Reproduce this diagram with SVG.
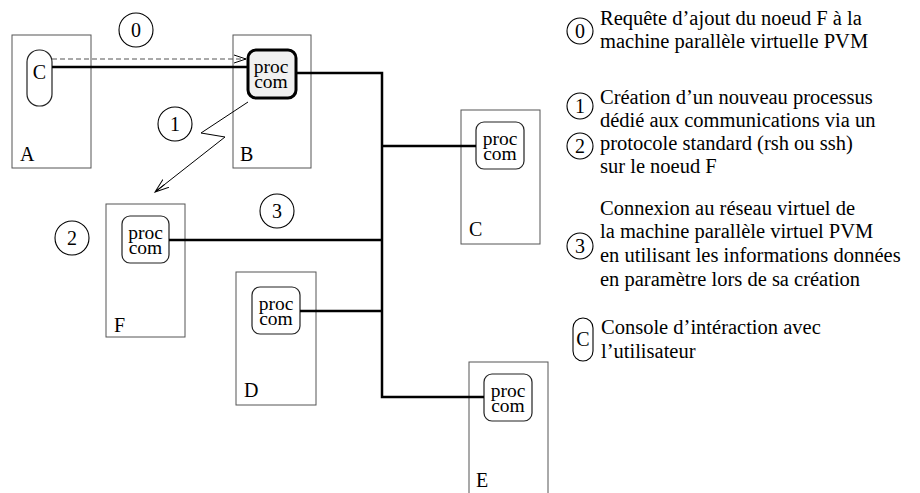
<svg xmlns="http://www.w3.org/2000/svg" width="920" height="493" viewBox="0 0 920 493">
<defs>
<style>
text{font-family:"Liberation Serif","Times New Roman",serif;fill:#000}
.lbl{font-size:20px}
.pc{font-size:19.5px;text-anchor:middle}
.num{font-size:20px;text-anchor:middle}
.lg{font-size:20.5px}
.box{fill:#fff;stroke:#555;stroke-width:1}
.proc{fill:#fff;stroke:#222;stroke-width:1.2}
.procb{fill:#f0f0f0;stroke:#000;stroke-width:3}
.circ{fill:none;stroke:#000;stroke-width:1.1}
.net{fill:none;stroke:#000;stroke-width:2.5}
.thin{fill:none;stroke:#000;stroke-width:1}
.dash{fill:none;stroke:#555;stroke-width:1.2;stroke-dasharray:5 3}
</style>
<marker id="open" markerWidth="14" markerHeight="10" refX="12" refY="5" orient="auto" markerUnits="userSpaceOnUse">
<path d="M0,1 L12,5 L0,9" fill="none" stroke="#000" stroke-width="1"/>
</marker>
<marker id="open2" markerWidth="16" markerHeight="12" refX="14" refY="6" orient="auto" markerUnits="userSpaceOnUse">
<path d="M0,1 L14,6 L0,11 M2,6 L14,6" fill="none" stroke="#000" stroke-width="1"/>
</marker>
</defs>
<rect width="920" height="493" fill="#fff"/>

<g id="nodeA">
<rect class="box" x="12" y="35" width="79" height="133"/>
<text class="lbl" x="20" y="161">A</text>
<rect class="proc" x="27" y="50" width="25" height="56" rx="12"/>
<text class="num" x="39.5" y="79">C</text>
</g>
<g id="nodeB">
<rect class="box" x="233" y="35" width="78" height="133"/>
<text class="lbl" x="240" y="161">B</text>
<rect class="procb" x="248" y="50" width="48" height="48" rx="8"/>
<text class="pc" x="271" y="72.5">proc<tspan x="271" dy="15">com</tspan></text>
</g>
<g id="nodeC">
<rect class="box" x="461" y="110" width="79" height="134"/>
<text class="lbl" x="469" y="236">C</text>
<rect class="proc" x="476" y="122" width="48" height="47" rx="8"/>
<text class="pc" x="500" y="144.5">proc<tspan x="500" dy="15">com</tspan></text>
</g>
<g id="nodeF">
<rect class="box" x="106" y="204" width="79" height="133"/>
<text class="lbl" x="114" y="332">F</text>
<rect class="proc" x="122" y="216" width="47" height="47" rx="8"/>
<text class="pc" x="145.5" y="238.5">proc<tspan x="145.5" dy="15">com</tspan></text>
</g>
<g id="nodeD">
<rect class="box" x="236" y="272" width="80" height="133"/>
<text class="lbl" x="244" y="397">D</text>
<rect class="proc" x="252" y="287" width="48" height="47" rx="8"/>
<text class="pc" x="276" y="309.5">proc<tspan x="276" dy="15">com</tspan></text>
</g>
<g id="nodeE">
<rect class="box" x="469" y="362" width="79" height="140"/>
<text class="lbl" x="476" y="487">E</text>
<rect class="proc" x="484" y="374" width="48" height="47" rx="8"/>
<text class="pc" x="508" y="396.5">proc<tspan x="508" dy="15">com</tspan></text>
</g>

<g id="connectors">
<path class="dash" d="M52,59 H246" marker-end="url(#open)"/>
<path class="net" d="M52,67 H248"/>
<path class="net" d="M296,73 H382 V397 H484"/>
<path class="net" d="M382,146 H476"/>
<path class="net" d="M169,240 H382"/>
<path class="net" d="M300,311 H382"/>
<path class="thin" d="M248,102 L201,133 L225,137 L155,192" marker-end="url(#open2)"/>
</g>

<g id="steps">
<circle class="circ" cx="136" cy="30" r="17"/><text class="num" x="136" y="37">0</text>
<circle class="circ" cx="175" cy="124" r="17"/><text class="num" x="175" y="131">1</text>
<circle class="circ" cx="72" cy="238" r="17"/><text class="num" x="72" y="245">2</text>
<circle class="circ" cx="277" cy="211" r="17"/><text class="num" x="277" y="218">3</text>
</g>

<g id="legend">
<circle class="circ" cx="580" cy="31" r="13"/><text class="num" x="580" y="38">0</text>
<text class="lg" x="600" y="25">Requête d’ajout du noeud F à la</text>
<text class="lg" x="600" y="48">machine parallèle virtuelle PVM</text>
<circle class="circ" cx="580" cy="106" r="13"/><text class="num" x="580" y="113">1</text>
<circle class="circ" cx="580" cy="146" r="13"/><text class="num" x="580" y="153">2</text>
<text class="lg" x="600" y="104">Création d’un nouveau processus</text>
<text class="lg" x="600" y="127">dédié aux communications via un</text>
<text class="lg" x="600" y="150">protocole standard (rsh ou ssh)</text>
<text class="lg" x="600" y="173">sur le noeud F</text>
<circle class="circ" cx="580" cy="246" r="13"/><text class="num" x="580" y="253">3</text>
<text class="lg" x="600" y="215">Connexion au réseau virtuel de</text>
<text class="lg" x="600" y="238">la machine parallèle virtuel PVM</text>
<text class="lg" x="600" y="262">en utilisant les informations données</text>
<text class="lg" x="600" y="286">en paramètre lors de sa création</text>
<rect class="circ" x="573" y="318" width="20" height="43" rx="10"/><text class="num" x="583" y="346">C</text>
<text class="lg" x="601" y="334">Console d’intéraction avec</text>
<text class="lg" x="601" y="358">l’utilisateur</text>
</g>
</svg>
